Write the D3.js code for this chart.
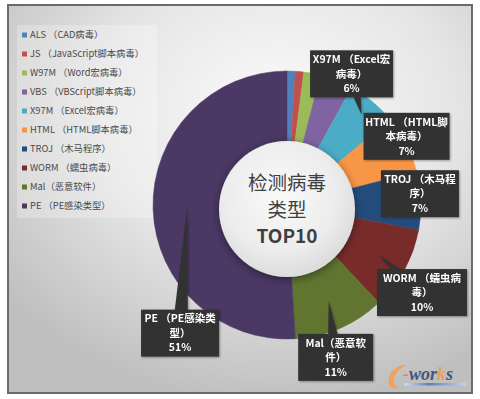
<!DOCTYPE html>
<meta charset="utf-8">
<style>
body { margin: 0; background: #fff; }
svg text { font-family: "Noto Sans CJK SC", "Noto Sans", sans-serif; }
</style>
<body>
<script src="https://d3js.org/d3.v7.min.js"></script>
<script>
// data
var categories = ["ALS （CAD病毒）", "JS （JavaScript脚本病毒）", "W97M （Word宏病毒）",
	"VBS （VBScript脚本病毒）", "X97M （Excel宏病毒）", "HTML （HTML脚本病毒）",
	"TROJ （木马程序）", "WORM （蠕虫病毒）", "Mal（恶意软件）", "PE （PE感染类型）"];
var values = [1, 1, 2, 4, 6, 7, 7, 10, 11, 51];
var colors = ["#4f81bd", "#c0504d", "#9bbb59", "#8064a2", "#4bacc6",
	"#f79646", "#234c7c", "#772c2a", "#5f7530", "#4b3865"];
var centerTitle = ["检测病毒", "类型", "TOP10"];

// callout layout: slice index, pointer radius, box offset from tip, box width
var callouts = [
	{i: 4, r: 117, dx: -10, dy: -41, w: 83},
	{i: 5, r: 105, dx: 26, dy: -21, w: 86},
	{i: 6, r: 105, dx: 28, dy: -8, w: 78},
	{i: 7, r: 105, dx: 43, dy: 37, w: 90},
	{i: 8, r: 105, dx: 7, dy: 56, w: 75},
	{i: 9, r: 100, dx: -7, dy: 125, w: 78}
];

var width = 480,
	height = 399,
	cx = 287,
	cy = 205,
	radius = 134;

var svg = d3.select("body").append("svg")
	.attr("width", width)
	.attr("height", height);

var defs = svg.append("defs");

var bg = defs.append("radialGradient")
	.attr("id", "bg")
	.attr("cx", "58%").attr("cy", "28%").attr("r", "75%");
bg.append("stop").attr("offset", "0%").attr("stop-color", "#fbfbfb");
bg.append("stop").attr("offset", "50%").attr("stop-color", "#e6e6e6");
bg.append("stop").attr("offset", "100%").attr("stop-color", "#bfbfbf");

var hole = defs.append("radialGradient")
	.attr("id", "hole")
	.attr("cx", "45%").attr("cy", "40%").attr("r", "60%");
hole.append("stop").attr("offset", "0%").attr("stop-color", "#fafafa");
hole.append("stop").attr("offset", "70%").attr("stop-color", "#ececec");
hole.append("stop").attr("offset", "100%").attr("stop-color", "#dcdcdc");

var shadow = defs.append("filter").attr("id", "shadow")
	.attr("x", "-30%").attr("y", "-30%").attr("width", "160%").attr("height", "160%");
shadow.append("feDropShadow").attr("dx", 0).attr("dy", 2)
	.attr("stdDeviation", 4).attr("flood-color", "#000").attr("flood-opacity", 0.45);

var boxShadow = defs.append("filter").attr("id", "boxShadow")
	.attr("x", "-20%").attr("y", "-20%").attr("width", "140%").attr("height", "140%");
boxShadow.append("feDropShadow").attr("dx", 1).attr("dy", 1)
	.attr("stdDeviation", 1.2).attr("flood-color", "#000").attr("flood-opacity", 0.35);

var logoLine = defs.append("linearGradient").attr("id", "logoLine");
logoLine.append("stop").attr("offset", "0%").attr("stop-color", "#d8e0f0");
logoLine.append("stop").attr("offset", "40%").attr("stop-color", "#5a7ec4");
logoLine.append("stop").attr("offset", "100%").attr("stop-color", "#c8d4ee");

// frame
svg.append("rect")
	.attr("x", 8).attr("y", 5)
	.attr("width", 464).attr("height", 388)
	.style("fill", "url(#bg)")
	.style("stroke", "#6a6a6a")
	.style("stroke-width", 2);

// legend
var legend = svg.append("g").attr("class", "legend");
legend.append("rect")
	.attr("x", 17).attr("y", 25)
	.attr("width", 140).attr("height", 193)
	.style("fill", "#fff").style("opacity", 0.25);

var ly = d3.scalePoint().domain(d3.range(categories.length)).range([35, 206]);

var item = legend.selectAll("g.item")
	.data(categories)
	.enter().append("g")
	.attr("class", "item")
	.attr("transform", function(d, i) { return "translate(22," + ly(i) + ")"; });

item.append("rect")
	.attr("x", 0).attr("y", -2.5)
	.attr("width", 5).attr("height", 5)
	.style("fill", function(d, i) { return colors[i]; });

item.append("text")
	.attr("x", 8).attr("dy", "0.35em")
	.style("font-size", "9.3px")
	.style("fill", "#4a4a4a")
	.text(function(d) { return d; });

// donut
var pie = d3.pie().sort(null).value(function(d) { return d; });
var arcs = pie(values);
var total = d3.sum(values);

var arc = d3.arc().innerRadius(50).outerRadius(radius);

var chart = svg.append("g").attr("transform", "translate(" + cx + "," + cy + ")");

chart.selectAll("path.slice")
	.data(arcs)
	.enter().append("path")
	.attr("class", "slice")
	.attr("d", arc)
	.style("fill", function(d, i) { return colors[i]; })
	.style("stroke", function(d, i) { return colors[i]; })
	.style("stroke-width", 0.5);

// centre disc
chart.append("circle")
	.attr("cx", 0).attr("cy", 4)
	.attr("r", 68)
	.style("fill", "url(#hole)")
	.attr("filter", "url(#shadow)");

var title = chart.append("g").attr("class", "title");
title.append("text").attr("y", -15).text(centerTitle[0])
	.style("font-size", "19.5px");
title.append("text").attr("y", 12).text(centerTitle[1])
	.style("font-size", "19.5px");
title.append("text").attr("y", 38).text(centerTitle[2])
	.style("font-size", "19px").style("font-weight", "bold");
title.selectAll("text")
	.attr("text-anchor", "middle")
	.style("fill", "#404040");

// callouts
var pct = d3.format(".0%");
var boxH = 47,
	fontSize = 10.5;

var measure = svg.append("text")
	.style("font-size", fontSize + "px").style("font-weight", "bold")
	.style("visibility", "hidden");

// wrap by width; a closing bracket never starts a line, it pulls the previous char down
function wrap(str, maxW) {
	var lines = [], cur = "";
	for (var k = 0; k < str.length; k++) {
		var ch = str[k];
		measure.text(cur + ch);
		if (cur && measure.node().getComputedTextLength() > maxW) {
			if (ch == "）") {
				lines.push(cur.slice(0, -1));
				cur = cur.slice(-1) + ch;
			} else {
				lines.push(cur);
				cur = ch;
			}
		} else {
			cur += ch;
		}
	}
	lines.push(cur);
	return lines;
}

var cg = chart.selectAll("g.callout")
	.data(callouts)
	.enter().append("g")
	.attr("class", "callout")
	.attr("filter", "url(#boxShadow)");

cg.each(function(c) {
	var g = d3.select(this);
	var a = arcs[c.i];
	var tip = d3.arc().innerRadius(c.r).outerRadius(c.r).centroid(a);
	var bx = tip[0] + c.dx,
		by = tip[1] + c.dy;

	// pointer wedge from box centre to tip
	var vx = tip[0] - bx, vy = tip[1] - by;
	var len = Math.sqrt(vx * vx + vy * vy);
	var px = -vy / len * 8, py = vx / len * 8;
	g.append("path")
		.attr("d", d3.line()([[bx + px, by + py], tip, [bx - px, by - py]]))
		.style("fill", "#333");

	g.append("rect")
		.attr("x", bx - c.w / 2).attr("y", by - boxH / 2)
		.attr("width", c.w).attr("height", boxH)
		.style("fill", "#333");

	var lines = wrap(categories[c.i], c.w - 3);
	lines.push(pct(values[c.i] / total));
	var top = by - (lines.length - 1) * 14.5 / 2;
	g.selectAll("text")
		.data(lines)
		.enter().append("text")
		.attr("x", bx)
		.attr("y", function(d, k) { return top + k * 14.5; })
		.attr("dy", "0.35em")
		.attr("text-anchor", "middle")
		.style("font-size", fontSize + "px")
		.style("font-weight", "bold")
		.style("fill", "#fff")
		.text(function(d) { return d; });
});

measure.remove();

// logo
var logo = svg.append("g").attr("class", "logo");
logo.append("rect")
	.attr("x", 404).attr("y", 383)
	.attr("width", 62).attr("height", 2.5)
	.style("fill", "url(#logoLine)");
logo.append("path")
	.attr("d", "M407,365 C396,364 387,374 389,384 C390,389 395,389 399,387 C393,386 392,380 396,374 C399,369 403,367 407,365 Z")
	.style("fill", "#f2a15a");
var w = logo.append("text")
	.attr("x", 403).attr("y", 380)
	.style("font-family", "'Liberation Serif', serif")
	.style("font-size", "18px")
	.style("font-style", "italic")
	.style("font-weight", "bold");
w.append("tspan").style("fill", "#e8893a").text("-");
w.append("tspan").style("fill", "#45557e").text("wor");
w.append("tspan").style("fill", "#f0a050").text("k");
w.append("tspan").style("fill", "#45557e").text("s");
</script>
</body>
